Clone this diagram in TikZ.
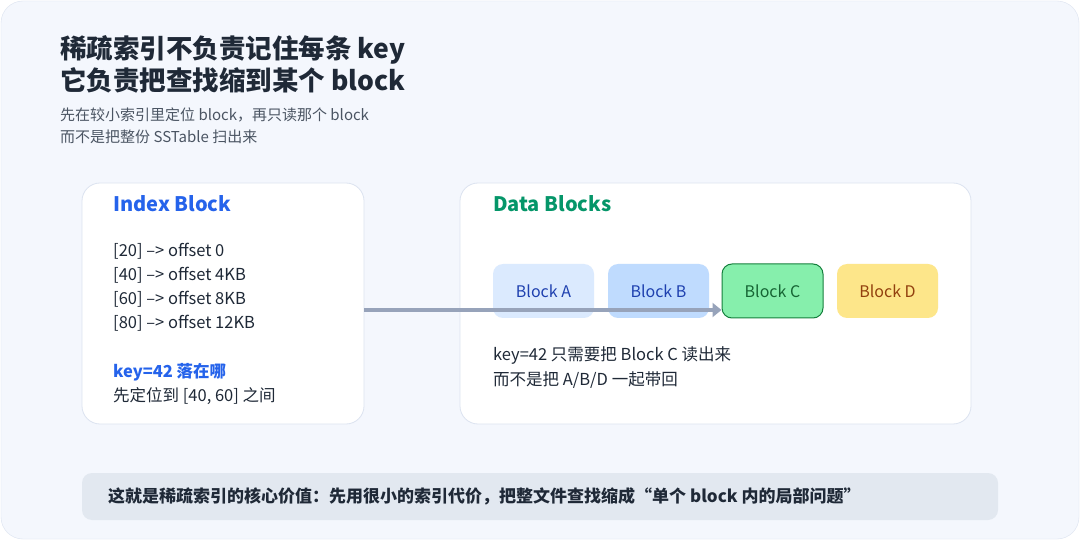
\documentclass[tikz,border=0pt]{standalone}
\usepackage{fontspec}
\setmainfont{Noto Sans CJK SC}
\usetikzlibrary{arrows.meta}
\definecolor{cardbg}{HTML}{F4F7FD}
\definecolor{cardbd}{HTML}{DCE3F0}
\definecolor{ink}{HTML}{1F2937}
\definecolor{sub}{HTML}{4B5563}
\definecolor{blu}{HTML}{2563EB}
\definecolor{grn}{HTML}{059669}
\definecolor{arr}{HTML}{97A3BA}
\definecolor{aF}{HTML}{DBEAFE}
\definecolor{bF}{HTML}{BFDBFE}
\definecolor{abT}{HTML}{1E40AF}
\definecolor{cF}{HTML}{86EFAC}
\definecolor{cD}{HTML}{15803D}
\definecolor{cT}{HTML}{166534}
\definecolor{dF}{HTML}{FDE68A}
\definecolor{dT}{HTML}{92400E}
\definecolor{barF}{HTML}{E2E8F0}
\tikzset{
  panel/.style={draw=cardbd,line width=0.8pt,fill=white,rounded corners=18pt},
  blk/.style={minimum width=101pt,minimum height=54pt,rounded corners=10pt,inner sep=0pt,font=\fontsize{16}{19}\selectfont},
  txt/.style={anchor=west,inner sep=0pt,text=ink,font=\fontsize{16.5}{19}\selectfont},
}
\begin{document}
\begin{tikzpicture}[x=1pt,y=-1pt]
\useasboundingbox (0,0) rectangle (1080,540);
\fill[white] (0,0) rectangle (1080,540);
\draw[cardbd,fill=cardbg,rounded corners=22pt] (1,1) rectangle (1079,539);
\node[anchor=west,inner sep=0pt,text=ink,font=\fontsize{26.5}{30}\bfseries] (t1) at (60,50) {稀疏索引不负责记住每条 key};
\node[anchor=west,inner sep=0pt,text=ink,font=\fontsize{26.5}{30}\bfseries] (t2) at (60,80) {它负责把查找缩到某个 block};
\node[anchor=west,inner sep=0pt,text=sub,font=\fontsize{15}{17}\selectfont] (s1) at (60,115) {先在较小索引里定位 block，再只读那个 block};
\node[anchor=west,inner sep=0pt,text=sub,font=\fontsize{15}{17}\selectfont] (s2) at (60,137) {而不是把整份 SSTable 扫出来};
\draw[panel] (82,183) rectangle (364,424);
\draw[panel] (460,183) rectangle (971,424);
\node[anchor=west,inner sep=0pt,text=blu,font=\fontsize{20}{22}\bfseries] (ib) at (113,204) {Index Block};
\node[txt] (l1) at (113,251) {[20] –> offset 0};
\node[txt] (l2) at (113,275) {[40] –> offset 4KB};
\node[txt] (l3) at (113,299) {[60] –> offset 8KB};
\node[txt] (l4) at (113,323) {[80] –> offset 12KB};
\node[txt,text=blu,font=\fontsize{16.5}{19}\bfseries] (k1) at (113,372) {key=42 落在哪};
\node[txt] (k2) at (113,396) {先定位到 [40, 60] 之间};
\node[anchor=west,inner sep=0pt,text=grn,font=\fontsize{20}{22}\bfseries] (db) at (493,204) {Data Blocks};
\node[blk,fill=aF,text=abT] (A) at (543.5,291) {Block A};
\node[blk,fill=bF,text=abT] (B) at (658.5,291) {Block B};
\node[blk,fill=cF,draw=cD,line width=1pt,text=cT] (C) at (772.5,291) {Block C};
\node[blk,fill=dF,text=dT] (D) at (887.5,291) {Block D};
\coordinate (s) at (364,310);
\draw[arr,line width=4pt,-{Triangle[length=9pt,width=14pt]}] (s) -- (C.west |- s);
\node[txt] (d1) at (493,356) {key=42 只需要把 Block C 读出来};
\node[txt] (d2) at (493,380) {而不是把 A/B/D 一起带回};
\fill[barF,rounded corners=10pt] (82,473) rectangle (998,520);
\node[txt,font=\fontsize{17}{19}\bfseries] (bot) at (108,496) {这就是稀疏索引的核心价值：先用很小的索引代价，把整文件查找缩成“单个 block 内的局部问题”};
\end{tikzpicture}
\end{document}
